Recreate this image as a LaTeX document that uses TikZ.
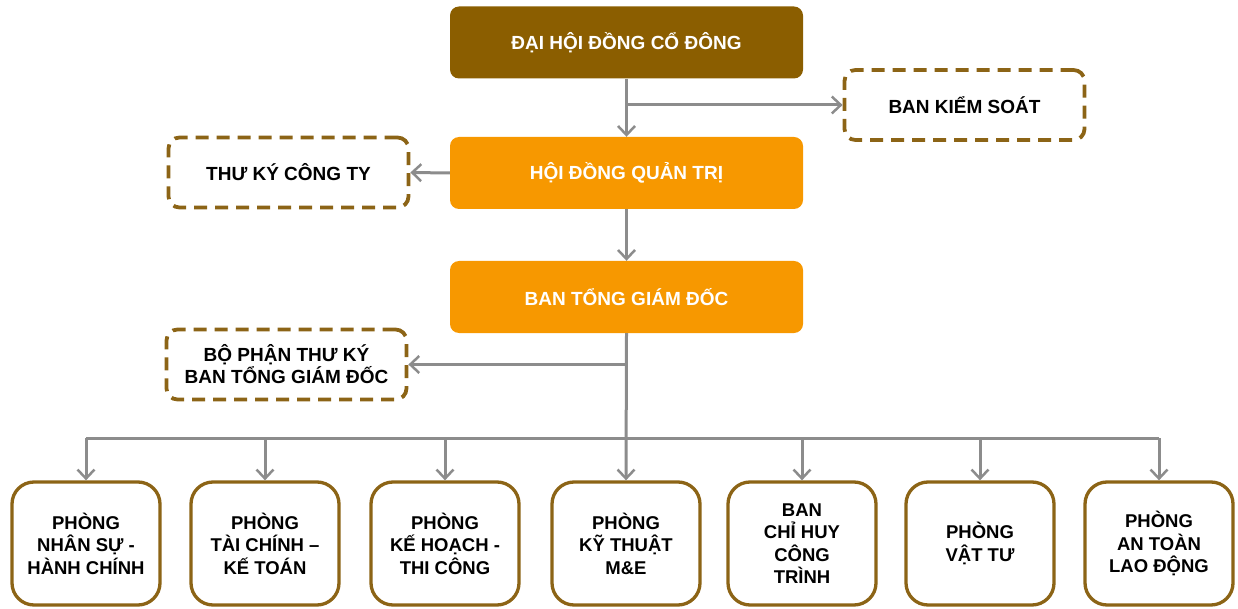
\documentclass[tikz,border=0pt]{standalone}
\usepackage{fontspec}
\setmainfont{Liberation Sans}
\usetikzlibrary{arrows.meta}
\definecolor{topbrown}{RGB}{139,94,0}
\definecolor{orangefill}{RGB}{247,152,0}
\definecolor{edgebrown}{RGB}{140,100,22}
\definecolor{conngray}{RGB}{140,140,140}
\begin{document}
\begin{tikzpicture}[x=1pt,y=-1pt,
  topbox/.style={rectangle, rounded corners=9pt, minimum width=353pt, minimum height=72pt, inner sep=0pt,
    text=white, font=\bfseries\fontsize{19}{22}\selectfont},
  dbox/.style={rectangle, draw=edgebrown, line width=3.8pt, dash pattern=on 13pt off 8pt, rounded corners=11pt,
    minimum width=240pt, minimum height=70pt, inner sep=0pt, align=center, font=\bfseries\fontsize{19}{22}\selectfont},
  dept/.style={rectangle, draw=edgebrown, line width=3.3pt, rounded corners=22pt, fill=white,
    minimum width=148pt, minimum height=123pt, inner sep=0pt, align=center, font=\bfseries\fontsize{18.5}{22.5}\selectfont},
  conn/.style={draw=conngray, line width=3pt, -{Straight Barb[length=9pt,width=17pt,line width=2.5pt]}},
  bar/.style={draw=conngray, line width=3pt}
]
\useasboundingbox (0,0) rectangle (1238,609);

\node[topbox, fill=topbrown] (dh) at (626.5,42.5) {ĐẠI HỘI ĐỒNG CỔ ĐÔNG};
\node[topbox, fill=orangefill] (hd) at (626.5,173) {HỘI ĐỒNG QUẢN TRỊ};
\node[topbox, fill=orangefill] (tgd) at (626.5,297) {BAN TỔNG GIÁM ĐỐC};

\node[dbox] (bk) at (964.5,105) {BAN KIỂM SOÁT};
\node[dbox] (tk) at (288.5,172.5) {THƯ KÝ CÔNG TY};
\node[dbox] (bp) at (286.5,364.5) {BỘ PHẬN THƯ KÝ\\BAN TỔNG GIÁM ĐỐC};

\node[dept] (d1) at (86,543.5) {PHÒNG\\NHÂN SỰ -\\HÀNH CHÍNH};
\node[dept] (d2) at (265,543.5) {PHÒNG\\TÀI CHÍNH –\\KẾ TOÁN};
\node[dept] (d3) at (445,543.5) {PHÒNG\\KẾ HOẠCH -\\THI CÔNG};
\node[dept] (d4) at (626,543.5) {PHÒNG\\KỸ THUẬT\\M\&E};
\node[dept] (d5) at (802,543.5) {BAN\\CHỈ HUY\\CÔNG\\TRÌNH};
\node[dept] (d6) at (980,543.5) {PHÒNG\\VẬT TƯ};
\node[dept] (d7) at (1159,543.5) {PHÒNG\\AN TOÀN\\LAO ĐỘNG};

\coordinate (bus) at (626,438);

\draw[conn] (dh.south) -- (hd.north);
\draw[conn] (dh.south |- bk.west) -- (bk.west);
\draw[conn] (hd.west) -- (tk.east);
\draw[conn] (hd.south) -- (tgd.north);
\draw[conn] (tgd.south) -- (d4.north);
\draw[conn] (tgd.south |- bp.east) -- (bp.east);
\draw[bar] (d1.north |- bus) -- (d7.north |- bus);
\foreach \d in {d1,d2,d3,d5,d6,d7} {
  \draw[conn] (\d.north |- bus) -- (\d.north);
}
\end{tikzpicture}
\end{document}
